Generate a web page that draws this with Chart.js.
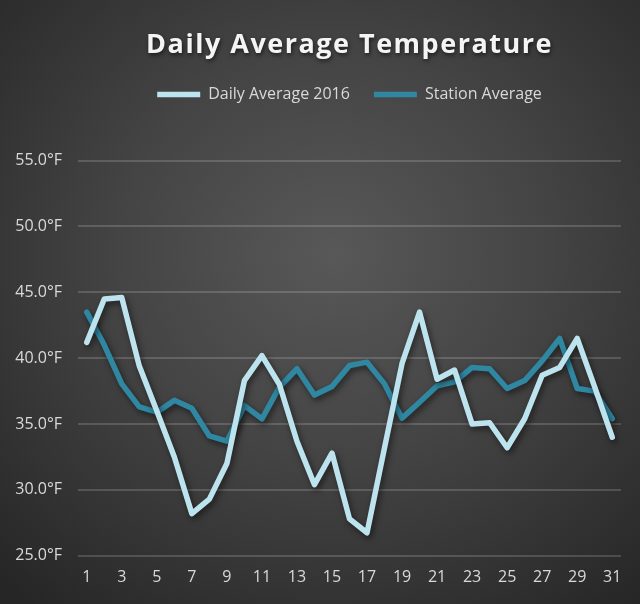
<!DOCTYPE html>
<html>
<head>
<meta charset="utf-8">
<script src="https://cdn.jsdelivr.net/npm/chart.js@4.4.1/dist/chart.umd.min.js"></script>
<style>
    html, body { margin: 0; padding: 0; }
    body { width: 640px; height: 604px; overflow: hidden; }
    #wrap {
        width: 640px; height: 604px;
        background: radial-gradient(ellipse 75% 75% at 52% 42%, #585858 0%, #444444 45%, #262626 100%);
    }
</style>
</head>
<body>
<div id="wrap"><canvas id="tempChart" width="640" height="604"></canvas></div>
<script>
// Datos del grafico
var dias = ['1', '2', '3', '4', '5', '6', '7', '8', '9', '10', '11', '12', '13', '14', '15', '16',
    '17', '18', '19', '20', '21', '22', '23', '24', '25', '26', '27', '28', '29', '30', '31'];

var promedio2016 = [41.2, 44.5, 44.6, 39.4, 36.0, 32.5, 28.2, 29.3, 32.0, 38.3, 40.2, 38.0, 33.7, 30.4, 32.8, 27.8,
    26.75, 33.2, 39.6, 43.5, 38.4, 39.1, 35.0, 35.1, 33.2, 35.4, 38.7, 39.3, 41.5, 37.8, 34.0];

var promedioEstacion = [43.5, 41.0, 38.05, 36.3, 35.9, 36.8, 36.2, 34.1, 33.7, 36.4, 35.4, 37.8, 39.2, 37.2, 37.85, 39.45,
    39.7, 38.05, 35.45, 36.65, 37.9, 38.2, 39.3, 39.2, 37.7, 38.3, 39.8, 41.5, 37.7, 37.5, 35.4];

var ticksY = [25, 30, 35, 40, 45, 50, 55];

var titulo = 'Daily Average Temperature';
var colorClaro = '#bde4ee';
var colorOscuro = '#2f87a1';
var colorTexto = '#d9d9d9';
var fuente = "'Open Sans', 'Noto Sans', sans-serif";

// sombra suave debajo de las lineas
var sombraLineas = {
    id: 'sombraLineas',
    beforeDatasetDraw: function (chart) {
        var ctx = chart.ctx;
        ctx.save();
        ctx.shadowColor = 'rgba(0, 0, 0, 0.55)';
        ctx.shadowBlur = 6;
        ctx.shadowOffsetX = 2;
        ctx.shadowOffsetY = 3;
    },
    afterDatasetDraw: function (chart) {
        chart.ctx.restore();
    }
};

// titulo con espaciado entre letras (el plugin de titulo solo reserva el espacio)
var tituloEspaciado = {
    id: 'tituloEspaciado',
    afterDraw: function (chart) {
        var box = chart.titleBlock;
        if (!box) return;
        var ctx = chart.ctx;
        ctx.save();
        ctx.font = 'bold 27px ' + fuente;
        ctx.letterSpacing = '1.5px';
        ctx.textAlign = 'center';
        ctx.textBaseline = 'middle';
        ctx.fillStyle = '#f4f4f4';
        ctx.shadowColor = 'rgba(0, 0, 0, 0.6)';
        ctx.shadowBlur = 4;
        ctx.shadowOffsetX = 1;
        ctx.shadowOffsetY = 2;
        ctx.fillText(titulo, (box.left + box.right) / 2, box.top + box.height / 2);
        ctx.restore();
    }
};

var ctx = document.getElementById('tempChart').getContext('2d');

var myChart = new Chart(ctx, {
    type: 'line',
    data: {
        labels: dias,
        datasets: [{
            label: 'Daily Average 2016',
            data: promedio2016,
            borderColor: colorClaro,
            backgroundColor: colorClaro,
            borderWidth: 5.5,
            borderCapStyle: 'round',
            borderJoinStyle: 'round',
            pointRadius: 0,
            tension: 0
        }, {
            label: 'Station Average',
            data: promedioEstacion,
            borderColor: colorOscuro,
            backgroundColor: colorOscuro,
            borderWidth: 5.5,
            borderCapStyle: 'round',
            borderJoinStyle: 'round',
            pointRadius: 0,
            tension: 0
        }]
    },
    options: {
        responsive: false,
        animation: false,
        layout: {
            padding: { left: 0, right: 19, top: 29, bottom: 5 }
        },
        scales: {
            x: {
                offset: true,
                grid: { display: false, drawTicks: false },
                border: { display: false },
                ticks: {
                    autoSkip: false,
                    maxRotation: 0,
                    padding: 12,
                    color: colorTexto,
                    font: { family: fuente, size: 16 },
                    callback: function (value, index) {
                        return index % 2 === 0 ? dias[index] : '';
                    }
                }
            },
            y: {
                min: 25,
                max: 55,
                afterBuildTicks: function (axis) {
                    axis.ticks = ticksY.map(function (v) { return { value: v }; });
                },
                afterFit: function (axis) {
                    axis.width = 78;
                },
                grid: { color: 'rgba(255, 255, 255, 0.16)', lineWidth: 2, drawTicks: false },
                border: { display: false },
                ticks: {
                    padding: 16,
                    color: colorTexto,
                    font: { family: fuente, size: 16 },
                    callback: function (value) { return value.toFixed(1) + '°F'; }
                }
            }
        },
        plugins: {
            title: {
                display: true,
                text: titulo,
                fullSize: false,
                color: 'rgba(0, 0, 0, 0)',
                font: { family: fuente, size: 28, weight: 'bold' },
                padding: { top: 0, bottom: 0 }
            },
            subtitle: {
                // hueco entre la leyenda y el area del grafico
                display: true,
                text: '',
                weight: 500,
                fullSize: false,
                font: { size: 10 },
                padding: { top: 0, bottom: 36 }
            },
            legend: {
                display: true,
                fullSize: false,
                labels: {
                    usePointStyle: true,
                    pointStyle: 'line',
                    pointStyleWidth: 43,
                    boxHeight: 5,
                    padding: 24,
                    color: colorTexto,
                    font: { family: fuente, size: 16 }
                }
            },
            tooltip: { enabled: false }
        }
    },
    plugins: [sombraLineas, tituloEspaciado]
});
</script>
</body>
</html>
